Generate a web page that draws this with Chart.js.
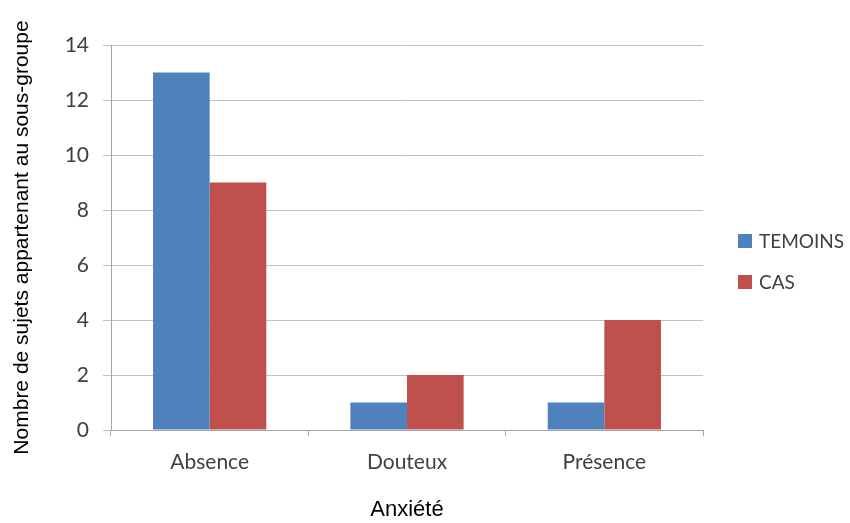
<!DOCTYPE html>
<html>
<head>
<meta charset="utf-8">
<script src="https://cdn.jsdelivr.net/npm/chart.js@4/dist/chart.umd.min.js"></script>
<style>
  html, body { margin: 0; padding: 0; background: #ffffff; }
  #wrap { width: 850px; height: 523px; }
</style>
</head>
<body>
<div id="wrap"><canvas id="c" width="850" height="523"></canvas></div>
<script>
const categories = ['Absence', 'Douteux', 'Présence'];
const temoinsValues = [13, 1, 1];
const casValues = [9, 2, 4];
const seriesLabels = ['TEMOINS', 'CAS'];
const yTicks = [0, 2, 4, 6, 8, 10, 12, 14];
const xTitle = 'Anxiété';
const yTitle = 'Nombre de sujets appartenant au sous-groupe';

const tickFont = { family: 'Lato, "Open Sans", sans-serif', size: 21 };
const legendFont = { family: 'Lato, "Open Sans", sans-serif', size: 19 };
const textColor = '#404040';

const legendPlugin = {
  id: 'customLegend',
  afterDraw(chart) {
    const ctx = chart.ctx;
    const ys = [241, 282];
    ctx.save();
    chart.data.datasets.forEach((ds, i) => {
      const y = ys[i];
      ctx.fillStyle = ds.backgroundColor;
      ctx.fillRect(738, y - 7, 14, 14);
      ctx.fillStyle = textColor;
      ctx.font = `${legendFont.size}px ${legendFont.family}`;
      ctx.textAlign = 'left';
      ctx.textBaseline = 'middle';
      ctx.fillText(ds.label, 759, y + 1);
    });
    ctx.restore();
  }
};

new Chart(document.getElementById('c'), {
  type: 'bar',
  data: {
    labels: categories,
    datasets: [
      { label: seriesLabels[0], data: temoinsValues, backgroundColor: '#4F81BD', borderWidth: 0 },
      { label: seriesLabels[1], data: casValues, backgroundColor: '#C0504D', borderWidth: 0 }
    ]
  },
  options: {
    responsive: false,
    animation: false,
    devicePixelRatio: 1,
    layout: { padding: { left: 0, right: 147, top: 45, bottom: 0 } },
    plugins: {
      legend: { display: false },
      tooltip: { enabled: false }
    },
    datasets: { bar: { categoryPercentage: 0.574, barPercentage: 1.0 } },
    scales: {
      x: {
        grid: { display: true, drawOnChartArea: false, drawTicks: true, tickLength: 6, color: '#a6a6a6', offset: true },
        border: { display: true, color: '#a6a6a6', width: 1 },
        ticks: { color: textColor, font: tickFont, padding: 14, maxRotation: 0 },
        title: { display: true, text: xTitle, color: '#000000', font: { family: '"Liberation Sans", Arial, sans-serif', size: 22 }, padding: { top: 0, bottom: 0 } },
        afterFit(scale) { scale.height = 93; }
      },
      y: {
        min: 0, max: 14,
        afterBuildTicks(scale) { scale.ticks = yTicks.map(v => ({ value: v })); },
        grid: { color: '#c0c0c0', drawTicks: true, tickLength: 8, lineWidth: 1 },
        border: { display: true, color: '#a6a6a6', width: 1 },
        ticks: { color: textColor, font: tickFont, padding: 14 },
        title: { display: true, text: yTitle, color: '#000000', font: { family: '"Liberation Sans", Arial, sans-serif', size: 21 }, padding: { top: 10, bottom: 0 } },
        afterFit(scale) { scale.width = 111; }
      }
    }
  },
  plugins: [legendPlugin]
});
</script>
</body>
</html>
